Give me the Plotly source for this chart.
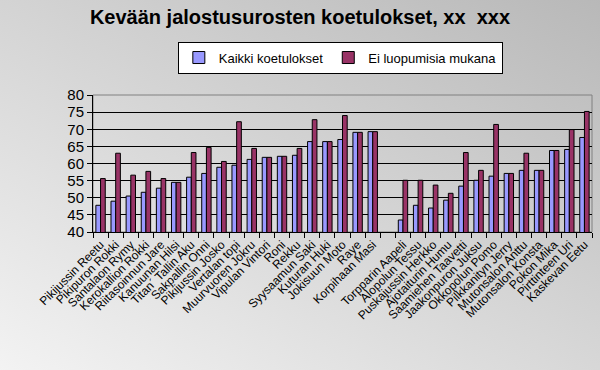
import plotly.graph_objects as go
import urllib.parse

categories = [
    "Pikijussin Reetu", "Pikipuron Rokki", "Santalaon Rymy", "Kerokallion Rokki",
    "Riitasoinnun Jare", "Kanuunan Hilsi", "Titan´ Tallin Aku", "Sakpallin Onni",
    "Pikijussin Josko", "Vertalan topi", "Muurvuoren Jokru", "Vipulan Vintori",
    "Roni", "Rekku", "Syysaamun Saki", "Kuturan Huki", "Jokisuun Moto", "Raye",
    "Korpihaan Masi", " ",
    "Torpparin Aapeli", "Alopolun Tessu", "Puskajussin Herkko", "Ajotaiturin Humu",
    "Saamiehen Taavetti", "Jaakonpuron Juksu", "Okkopolun Pomo", "Pilkkanityn Jerry",
    "Mutonsalon Anttu", "Mutonsalon Konsta", "Pokon Mika", "Pirttinteen Uri",
    "Kaskevan Eetu",
]

kaikki = [47.8, 49.0, 50.5, 51.6, 52.8, 54.5, 56.0, 57.1, 58.9, 59.5, 61.2, 61.8,
          62.1, 62.4, 66.4, 66.4, 67.0, 69.1, 69.3, None,
          43.5, 47.8, 47.0, 49.3, 53.4, 55.1, 56.3, 57.1, 58.0, 58.0, 63.8, 64.1, 67.6]

ei_luopumisia = [55.6, 63.0, 56.6, 57.7, 55.6, 54.5, 63.2, 64.7, 60.6, 72.2, 64.4, 61.8,
                 62.1, 64.4, 72.8, 66.4, 74.0, 69.1, 69.3, None,
                 55.1, 55.1, 53.7, 51.3, 63.2, 58.0, 71.4, 57.1, 63.0, 58.0, 63.8, 69.9, 75.2]

y_ticks = [40, 45, 50, 55, 60, 65, 70, 75, 80]

svg = ('<svg xmlns="http://www.w3.org/2000/svg" width="600" height="370">'
       '<defs><linearGradient id="g" x1="0" y1="1" x2="1" y2="0">'
       '<stop offset="0" stop-color="#f4f4f4"/><stop offset="1" stop-color="#b4b4b4"/>'
       '</linearGradient></defs><rect width="600" height="370" fill="url(#g)"/></svg>')
bg_src = "data:image/svg+xml;charset=utf-8," + urllib.parse.quote(svg)

fig = go.Figure()
fig.add_trace(go.Bar(x=categories, y=kaikki, name="Kaikki koetulokset",
                     marker=dict(color="#9999FF", line=dict(color="black", width=1))))
fig.add_trace(go.Bar(x=categories, y=ei_luopumisia, name="Ei luopumisia mukana",
                     marker=dict(color="#993366", line=dict(color="black", width=1))))

fig.update_layout(
    width=600, height=370,
    margin=dict(l=93, r=8, t=95, b=138, autoexpand=False),
    paper_bgcolor="#d8d8d8",
    plot_bgcolor="#C0C0C0",
    barmode="group", bargap=0.38, bargroupgap=0,
    font=dict(family="Arial, Liberation Sans", color="black"),
    title=dict(text="<b>Kevään jalostusurosten koetulokset, xx\u00a0 xxx</b>",
               x=0.5, xanchor="center", y=0.954, yanchor="middle",
               font=dict(size=20, color="black")),
    legend=dict(orientation="h", x=0.17, xanchor="left", y=1.39, yanchor="top",
                bgcolor="white", bordercolor="black", borderwidth=1,
                font=dict(size=13), itemwidth=30, tracegroupgap=0),
    images=[dict(source=bg_src, xref="paper", yref="paper", x=-0.2, y=1.7,
                 sizex=1.4, sizey=2.8, sizing="stretch", xanchor="left", yanchor="top",
                 layer="below")],
    shapes=[dict(type="rect", xref="paper", yref="paper", x0=0, x1=1, y0=0, y1=1,
                 line=dict(color="#808080", width=1), layer="below")],
    showlegend=True,
)
fig.update_xaxes(type="category", tickangle=-45, tickfont=dict(size=12),
                 tickmode="array", tickvals=categories, ticktext=categories,
                 showline=True, linecolor="black", linewidth=1, automargin=False,
                 ticks="outside", ticklen=5, tickcolor="black", tickson="boundaries",
                 showgrid=False, mirror=False)
fig.update_yaxes(range=[40, 80], tickvals=y_ticks, tickfont=dict(size=15),
                 showline=True, linecolor="black", linewidth=1, automargin=False,
                 ticks="outside", ticklen=5, tickcolor="black",
                 showgrid=True, gridcolor="black", gridwidth=1, zeroline=False)

fig.write_html("out.html", config={"displayModeBar": False},
               post_script="document.body.style.margin='0';")
